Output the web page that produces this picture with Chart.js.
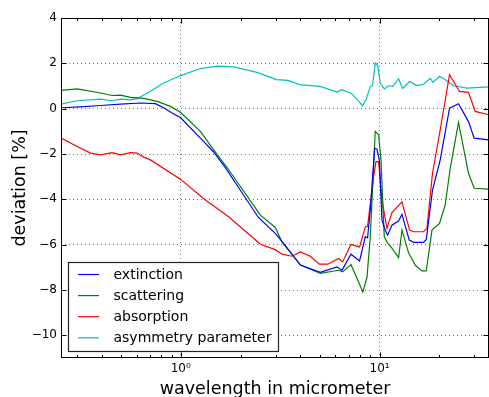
<!DOCTYPE html>
<html><head><meta charset="utf-8">
<script src="https://cdn.jsdelivr.net/npm/chart.js@4.4.1/dist/chart.umd.min.js"></script>
<style>html,body{margin:0;padding:0;background:#fff;overflow:hidden}</style>
</head><body>
<canvas id="c" width="489" height="397"></canvas>
<script>
const seriesLabels = ['extinction', 'scattering', 'absorption', 'asymmetry parameter'];
const seriesColors = ['#0000ff', '#008000', '#ff0000', '#00bfbf'];

const extWl  = [0.25,0.313,0.395,0.498,0.627,0.746,0.838,0.908,1.0,1.256,1.46,1.677,1.995,2.458,2.99,3.28,4.0,5.03,6.11,6.47,7.18,7.93,8.48,8.70,8.98,9.44,9.70,9.97,10.28,10.68,10.97,11.54,12.46,12.96,14.1,14.82,16.63,17.17,18.46,20.18,22.48,24.94,28.0,29.9,35.3];
const extVal = [0.04,0.08,0.14,0.2,0.25,0.22,0.0,-0.2,-0.4,-1.3,-1.9,-2.6,-3.6,-4.8,-5.5,-5.93,-6.9,-7.22,-6.98,-7.13,-6.42,-6.72,-5.65,-5.7,-4.47,-1.74,-1.79,-2.26,-4.92,-5.36,-5.58,-5.14,-4.96,-4.66,-5.8,-5.9,-5.9,-5.77,-3.59,-2.26,0.02,0.22,-0.57,-1.3,-1.38];

const scaWl  = [0.25,0.3015,0.395,0.452,0.498,0.559,0.652,0.761,0.888,1.0,1.256,1.465,1.722,2.515,2.99,3.23,4.0,5.03,6.22,6.52,7.18,8.24,8.64,8.98,9.51,9.89,10.16,10.56,10.97,11.41,12.46,12.96,13.99,15.12,16.33,17.17,18.34,20.02,21.38,22.66,24.94,28.0,29.9,35.3];
const scaVal = [0.81,0.87,0.69,0.58,0.60,0.5,0.45,0.32,0.1,-0.17,-1.0,-1.82,-2.63,-4.7,-5.24,-5.88,-6.9,-7.27,-7.13,-7.2,-6.88,-8.09,-7.45,-5.65,-1.0,-1.15,-2.26,-5.65,-5.92,-6.1,-6.57,-5.36,-6.36,-6.91,-7.16,-7.16,-5.36,-5.06,-4.25,-2.63,-0.61,-2.85,-3.51,-3.55];

const absWl  = [0.25,0.3015,0.352,0.395,0.452,0.498,0.559,0.604,0.652,0.704,1.0,1.305,1.742,2.515,2.99,3.23,3.63,4.0,4.485,4.98,5.49,6.22,6.52,7.18,7.93,8.48,8.70,9.33,9.59,9.89,10.28,10.89,11.54,12.96,14.15,14.82,16.63,17.3,18.46,20.18,22.48,25.23,28.0,30.26,35.3];
const absVal = [-1.30,-1.67,-1.96,-2.04,-1.94,-2.04,-1.94,-1.96,-2.14,-2.26,-3.12,-3.97,-4.77,-5.98,-6.22,-6.42,-6.51,-6.32,-6.51,-6.86,-6.86,-6.61,-6.76,-5.99,-6.1,-5.21,-5.21,-3.0,-2.34,-2.34,-4.03,-5.28,-4.58,-4.11,-5.36,-5.43,-5.43,-5.28,-2.85,-0.93,1.5,0.76,0.72,-0.12,-0.27];

const asyWl  = [0.25,0.3015,0.395,0.452,0.498,0.559,0.604,0.691,0.821,1.0,1.256,1.524,1.846,2.42,3.03,3.46,3.96,5.03,6.11,6.47,7.27,8.22,8.55,8.98,9.22,9.51,9.77,10.08,10.56,11.1,11.68,12.46,13.05,14.15,15.29,16.52,17.98,18.55,20.02,21.14,23.55,27.5,35.3];
const asyVal = [0.2,0.35,0.42,0.35,0.42,0.39,0.44,0.72,1.13,1.46,1.77,1.88,1.84,1.6,1.28,1.25,1.06,0.98,0.73,0.84,0.65,0.13,0.39,0.98,1.01,2.02,1.91,1.13,0.87,1.01,0.98,1.32,0.89,1.2,1.03,1.06,1.34,1.16,1.43,1.31,1.01,0.91,0.96];

const xMajorTicks = [1, 10];
const xTickLabels = ['10\u2070', '10\u00b9'];
const xMinorTicks = [0.3,0.4,0.5,0.6,0.7,0.8,0.9,2,3,4,5,6,7,8,9,20,30];
const yTickValues = [-10,-8,-6,-4,-2,0,2,4];
const xTitle = 'wavelength in micrometer';
const yTitle = 'deviation [%]';

const FONT = "'DejaVu Sans', sans-serif";
const toPts = (xs, ys) => xs.map((x, i) => ({x: x, y: ys[i]}));
const allWl = [extWl, scaWl, absWl, asyWl];
const allVal = [extVal, scaVal, absVal, asyVal];

const framePlugin = {
  id: 'frame',
  afterDatasetsDraw(chart) {
    const {ctx, chartArea: a, scales: {x, y}} = chart;
    const L = Math.round(a.left) + 0.5, R = Math.round(a.right) - 0.5;
    const T = Math.round(a.top) + 0.5, B = Math.round(a.bottom) - 0.5;
    ctx.save();
    ctx.strokeStyle = '#000'; ctx.lineWidth = 1;
    ctx.strokeRect(L, T, R - L, B - T);
    ctx.beginPath();
    for (const v of xMajorTicks) {
      const px = Math.round(x.getPixelForValue(v)) + 0.5;
      ctx.moveTo(px, B); ctx.lineTo(px, B - 5);
      ctx.moveTo(px, T); ctx.lineTo(px, T + 5);
    }
    for (const v of xMinorTicks) {
      const px = Math.round(x.getPixelForValue(v)) + 0.5;
      ctx.moveTo(px, B); ctx.lineTo(px, B - 2.5);
      ctx.moveTo(px, T); ctx.lineTo(px, T + 2.5);
    }
    for (const v of yTickValues) {
      const py = Math.round(y.getPixelForValue(v)) + 0.5;
      ctx.moveTo(L, py); ctx.lineTo(L + 5, py);
      ctx.moveTo(R, py); ctx.lineTo(R - 5, py);
    }
    ctx.stroke();
    ctx.restore();
  }
};

const legendPlugin = {
  id: 'innerLegend',
  afterDraw(chart) {
    const {ctx, chartArea: a} = chart;
    const bx = Math.round(a.left) + 7.5, by = Math.round(a.bottom) - 95.5;
    const bw = 210, bh = 89;
    ctx.save();
    ctx.fillStyle = '#fff';
    ctx.fillRect(bx, by, bw, bh);
    ctx.strokeStyle = '#222'; ctx.lineWidth = 1.2;
    ctx.strokeRect(bx, by, bw, bh);
    ctx.font = '14px ' + FONT;
    ctx.textBaseline = 'middle';
    ctx.textAlign = 'left';
    chart.data.datasets.forEach((d, i) => {
      const yy = by + 12 + i * 21.1;
      ctx.strokeStyle = d.borderColor; ctx.lineWidth = 1.2;
      ctx.beginPath(); ctx.moveTo(bx + 9.5, yy); ctx.lineTo(bx + 30.5, yy); ctx.stroke();
      ctx.fillStyle = '#000';
      ctx.fillText(d.label, bx + 45, yy + 1);
    });
    ctx.restore();
  }
};

new Chart(document.getElementById('c'), {
  type: 'line',
  data: {
    datasets: seriesLabels.map((lab, i) => ({
      label: lab,
      data: toPts(allWl[i], allVal[i]),
      borderColor: seriesColors[i],
      backgroundColor: seriesColors[i],
      borderWidth: 1.2,
      pointRadius: 0,
      tension: 0,
      fill: false
    }))
  },
  options: {
    responsive: false,
    animation: false,
    layout: {padding: {top: 18, left: 0, right: 0, bottom: 0}},
    plugins: {legend: {display: false}, tooltip: {enabled: false}},
    scales: {
      x: {
        type: 'logarithmic',
        min: 0.25, max: 35.5,
        afterBuildTicks: (s) => { s.ticks = xMajorTicks.map(v => ({value: v})); },
        afterFit: (s) => { s.height = 39; },
        ticks: {
          autoSkip: false, maxRotation: 0, padding: 4,
          color: '#000', font: {family: FONT, size: 12},
          callback: (v, i) => xTickLabels[i]
        },
        grid: {display: true, drawTicks: false, color: 'rgba(0,0,0,0.55)', lineWidth: 1},
        border: {display: false, dash: [1, 3]},
        title: {display: true, text: xTitle, color: '#000',
                font: {family: FONT, size: 17.5, lineHeight: 1}, padding: {top: 0, bottom: -1.5}}
      },
      y: {
        type: 'linear',
        min: -11, max: 4,
        afterBuildTicks: (s) => { s.ticks = yTickValues.map(v => ({value: v})); },
        afterFit: (s) => { s.width = 61; },
        ticks: {
          autoSkip: false, padding: 4,
          color: '#000', font: {family: FONT, size: 12},
          callback: (v) => (v < 0 ? '\u2212' + Math.abs(v) : String(v))
        },
        grid: {display: true, drawTicks: false, color: 'rgba(0,0,0,0.55)', lineWidth: 1},
        border: {display: false, dash: [1, 3]},
        title: {display: true, text: yTitle, color: '#000',
                font: {family: FONT, size: 17.5, lineHeight: 1}, padding: {top: 11.5, bottom: 0}}
      }
    }
  },
  plugins: [framePlugin, legendPlugin]
});
</script>
</body></html>
